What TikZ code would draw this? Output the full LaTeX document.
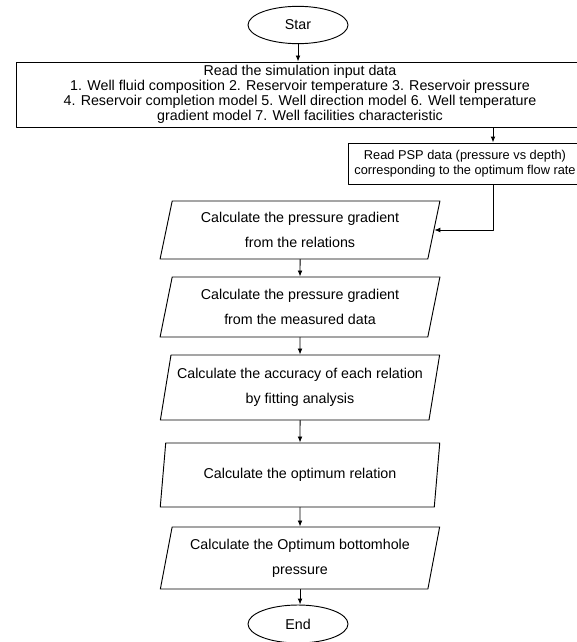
\documentclass[tikz,border=0pt]{standalone}
\usepackage{fontspec}
\setmainfont{Liberation Sans}
\usetikzlibrary{arrows.meta,shapes.geometric}
\tikzset{
  io/.style={trapezium,trapezium left angle=76,trapezium right angle=104,
             trapezium stretches=true,draw,minimum width=210pt,inner sep=1pt,
             align=center,font=\fontsize{10.7}{18.8}\selectfont},
  box/.style={rectangle,draw,align=center,inner sep=1pt,
              font=\fontsize{10.7}{11.3}\selectfont},
  term/.style={ellipse,draw,minimum width=75pt,minimum height=28pt,
               font=\fontsize{10.7}{12}\selectfont},
  every picture/.style={line cap=round,line join=round}}

\begin{document}
\begin{tikzpicture}[x=0.75pt,y=-0.75pt,line width=0.7pt,
  >={Latex[length=4.5pt,width=3.6pt]}]
  \useasboundingbox (0,0) rectangle (577,642);
  \node[term] (start) at (298,25) {Star};
  \node[box,minimum width=426pt,minimum height=48.75pt] (read) at (300,94.5)
    {Read the simulation input data\\1. Well fluid composition 2. Reservoir temperature 3. Reservoir pressure\\4. Reservoir completion model 5. Well direction model 6. Well temperature\\gradient model 7. Well facilities characteristic};
  \node[box,minimum width=175.5pt,minimum height=30.75pt,inner sep=0.5pt,
        font=\fontsize{9.6}{11.3}\selectfont] (psp) at (465,163.5)
    {Read PSP data (pressure vs depth)\\corresponding to the optimum flow rate};
  \coordinate (tap) at (493,0);
  \node[io,minimum height=43.5pt] (grel) at (300,230) {Calculate the pressure gradient\\from the relations};
  \node[io,minimum height=45pt] (gmes) at (300,307) {Calculate the pressure gradient\\from the measured data};
  \node[io,minimum height=48.75pt] (acc) at (300,387.5) {Calculate the accuracy of each relation\\by fitting analysis};
  \node[io,minimum height=48pt] (opt) at (300,475) {Calculate the optimum relation};
  \node[io,minimum height=46.5pt] (bhp) at (300,558) {Calculate the Optimum bottomhole\\pressure};
  \node[term,minimum height=28.5pt] (end) at (298,624) {End};
  % connectors
  \draw[->] (start.south) -- (start.south |- read.north);
  \draw[->] (read.south -| tap) -- (psp.north -| tap);
  \draw[->] (psp.south -| tap) |- (grel.east);
  \draw[->] (grel) -- (gmes); \draw[->] (gmes) -- (acc);
  \draw[->] (acc) -- (opt); \draw[->] (opt) -- (bhp);
  \draw[->] (bhp.south) -- (bhp.south |- end.north);
\end{tikzpicture}
\end{document}
